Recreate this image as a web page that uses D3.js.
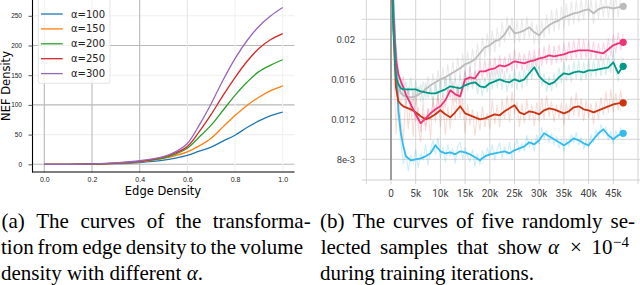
<!DOCTYPE html>
<html>
<head>
<meta charset="utf-8">
<script src="https://d3js.org/d3.v7.min.js"></script>
<style>
  body { margin: 0; background: #fff; }
  svg { display: block; }
  .cap { font-family: "Liberation Serif", "Times New Roman", serif; font-size: 21px; fill: #000; }
</style>
</head>
<body>
<svg id="fig" width="640" height="285"></svg>
<script>
// ---- (a) transformation curves ----
var edgeX = [0, 0.1, 0.2, 0.3, 0.4, 0.5, 0.55, 0.6, 0.65, 0.7, 0.75, 0.8, 0.85, 0.9, 0.95, 1.0];
var alphaLabels = ["α=100", "α=150", "α=200", "α=250", "α=300"];
var nef100 = [0, 0, 0.3, 1, 3, 7, 10.5, 15, 22, 29, 39, 49, 62, 73, 82, 88];
var nef150 = [0, 0, 0.4, 1.5, 4, 10, 14.5, 21, 31, 44, 63, 82, 99, 113, 124, 132];
var nef200 = [0, 0, 0.5, 2, 5, 10.5, 17, 27, 46, 66, 91, 116, 138, 156, 167, 176];
var nef250 = [0, 0, 0.6, 2, 5, 12, 19, 30, 55, 84, 116, 146, 173, 195, 210, 220];
var nef300 = [0, 0, 0.7, 2.5, 6, 13, 21, 35, 66, 102, 142, 178, 208, 232, 250, 264];
var xTicksA = [0, 0.2, 0.4, 0.6, 0.8, 1.0];
var yTicksA = [0, 50, 100, 150, 200, 250];

// ---- (b) training curves (alpha x 1e-4 vs iteration) ----
var smoothSteps = [0, 500, 1000, 1500, 2000, 2500, 3000,
  4000, 5000, 6000, 7000, 8000, 9000, 10000,
  11000, 12000, 13000, 14000, 15000, 16000, 17000, 18000, 19000, 20000,
  21000, 22000, 23000, 24000, 25000, 26000, 27000, 28000, 29000, 30000,
  31000, 32000, 33000, 34000, 35000, 36000, 37000, 38000, 39000, 40000,
  41000, 42000, 43000, 44000, 45000, 46000, 47000];
var cyanSmooth = [0.030, 0.023, 0.018, 0.0129, 0.0106, 0.0093, 0.0083,
  0.0079, 0.0080, 0.0081, 0.0083, 0.0086, 0.0094, 0.0088,
  0.0086, 0.0087, 0.0085, 0.0088, 0.0087, 0.0085, 0.0082, 0.0079, 0.0083, 0.0085,
  0.0086, 0.0087, 0.0088, 0.0086, 0.0089, 0.0091, 0.0093, 0.0097, 0.0095, 0.0099,
  0.0106, 0.0103, 0.0100, 0.0097, 0.0094, 0.0097, 0.0101, 0.0099, 0.0096, 0.0094,
  0.0100, 0.0106, 0.0110, 0.0104, 0.0100, 0.0104, 0.0106];
var redSmooth = [0.030, 0.021, 0.0152, 0.0138, 0.0135, 0.0133, 0.0132,
  0.0130, 0.0127, 0.0123, 0.0120, 0.0122, 0.0125, 0.0129,
  0.0125, 0.0122, 0.0127, 0.0133, 0.0126, 0.0124, 0.0122, 0.0120, 0.0121, 0.0123,
  0.0125, 0.0124, 0.0128, 0.0131, 0.0134, 0.0127, 0.0125, 0.0128, 0.0127, 0.0125,
  0.0129, 0.0131, 0.0130, 0.0128, 0.0126, 0.0128, 0.0132, 0.0133, 0.0130, 0.0129,
  0.0127, 0.0129, 0.0131, 0.0133, 0.0135, 0.0136, 0.01365];
var tealSmooth = [0.030, 0.021, 0.0162, 0.0155, 0.0151, 0.0150, 0.0150,
  0.0150, 0.0150, 0.0148, 0.0147, 0.0146, 0.0146, 0.0148,
  0.0150, 0.0153, 0.0152, 0.0151, 0.0154, 0.0156, 0.0157, 0.0153, 0.0152, 0.0156,
  0.0158, 0.0160, 0.0158, 0.0157, 0.0160, 0.0158, 0.0160, 0.0166, 0.0172, 0.0163,
  0.0158, 0.0155, 0.0157, 0.0162, 0.0166, 0.0165, 0.0167, 0.0168, 0.0167, 0.0169,
  0.0169, 0.0170, 0.0171, 0.0172, 0.0177, 0.0166, 0.0173];
var pinkSmooth = [0.030, 0.022, 0.0180, 0.0165, 0.0158, 0.0152, 0.0145,
  0.0135, 0.0125, 0.0116, 0.0121, 0.0126, 0.0130, 0.0133,
  0.0139, 0.0149, 0.0145, 0.0143, 0.0160, 0.0162, 0.0161, 0.0168, 0.0168, 0.0170,
  0.0171, 0.0174, 0.0173, 0.0175, 0.0178, 0.0177, 0.0176, 0.0178, 0.0179, 0.0181,
  0.0182, 0.0184, 0.0183, 0.0184, 0.0185, 0.0187, 0.0188, 0.0189, 0.0189, 0.0189,
  0.0188, 0.0187, 0.0186, 0.0190, 0.0194, 0.0196, 0.0197];
var graySmooth = [0.030, 0.024, 0.0180, 0.0155, 0.0146, 0.0144, 0.0143,
  0.0142, 0.0143, 0.0146, 0.0150, 0.0154, 0.0157, 0.0160,
  0.0162, 0.0165, 0.0168, 0.0171, 0.0175, 0.0177, 0.0180, 0.0186, 0.0192, 0.0194,
  0.0198, 0.0200, 0.0205, 0.0213, 0.0206, 0.0207, 0.0209, 0.0212, 0.0207, 0.0204,
  0.0210, 0.0214, 0.0217, 0.0219, 0.0222, 0.0224, 0.0226, 0.0227, 0.0229, 0.0230,
  0.0226, 0.0230, 0.0232, 0.0232, 0.0231, 0.0232, 0.0233];

// raw (unsmoothed) traces, one value every 500 iterations
var rawSteps = d3.range(0, 47001, 500);
var cyanRaw = [0.030, 0.022, 0.016, 0.0120, 0.0098, 0.0075, 0.0088, 0.0068, 0.0084, 0.0077,
  0.0090, 0.0071, 0.0086, 0.0079, 0.0095, 0.0074, 0.0089, 0.0099, 0.0085, 0.0102,
  0.0081, 0.0092, 0.0077, 0.0095, 0.0084, 0.0091, 0.0076, 0.0093, 0.0097, 0.0080,
  0.0092, 0.0083, 0.0078, 0.0090, 0.0073, 0.0086, 0.0075, 0.0089, 0.0080, 0.0091,
  0.0083, 0.0095, 0.0079, 0.0090, 0.0096, 0.0081, 0.0093, 0.0084, 0.0097, 0.0080,
  0.0092, 0.0100, 0.0087, 0.0096, 0.0088, 0.0104, 0.0092, 0.0099, 0.0088, 0.0105,
  0.0095, 0.0112, 0.0101, 0.0109, 0.0097, 0.0106, 0.0095, 0.0103, 0.0091, 0.0100,
  0.0088, 0.0099, 0.0093, 0.0105, 0.0096, 0.0107, 0.0094, 0.0102, 0.0090, 0.0099,
  0.0092, 0.0104, 0.0097, 0.0109, 0.0102, 0.0115, 0.0105, 0.0112, 0.0099, 0.0108,
  0.0095, 0.0109, 0.0101, 0.0111, 0.0104];
var redRaw = [0.030, 0.019, 0.0105, 0.0150, 0.0118, 0.0098, 0.0146, 0.0110, 0.0139, 0.0102,
  0.0152, 0.0115, 0.0097, 0.0137, 0.0108, 0.0131, 0.0100, 0.0143, 0.0117, 0.0148,
  0.0112, 0.0138, 0.0104, 0.0133, 0.0110, 0.0145, 0.0119, 0.0154, 0.0121, 0.0141,
  0.0106, 0.0135, 0.0114, 0.0130, 0.0103, 0.0128, 0.0109, 0.0133, 0.0112, 0.0126,
  0.0110, 0.0139, 0.0115, 0.0134, 0.0112, 0.0140, 0.0120, 0.0144, 0.0117, 0.0148,
  0.0125, 0.0138, 0.0112, 0.0136, 0.0116, 0.0140, 0.0119, 0.0135, 0.0113, 0.0137,
  0.0118, 0.0141, 0.0120, 0.0144, 0.0122, 0.0138, 0.0117, 0.0135, 0.0121, 0.0137,
  0.0114, 0.0136, 0.0120, 0.0143, 0.0124, 0.0147, 0.0122, 0.0141, 0.0118, 0.0139,
  0.0121, 0.0136, 0.0115, 0.0138, 0.0119, 0.0142, 0.0124, 0.0148, 0.0126, 0.0150,
  0.0127, 0.0146, 0.0129, 0.0149, 0.0132];
var tealRaw = [0.030, 0.020, 0.0172, 0.0146, 0.0160, 0.0141, 0.0158, 0.0144, 0.0162, 0.0139,
  0.0159, 0.0143, 0.0155, 0.0137, 0.0157, 0.0141, 0.0152, 0.0136, 0.0156, 0.0140,
  0.0160, 0.0142, 0.0163, 0.0144, 0.0165, 0.0147, 0.0161, 0.0143, 0.0164, 0.0145,
  0.0167, 0.0148, 0.0166, 0.0150, 0.0169, 0.0145, 0.0160, 0.0143, 0.0162, 0.0147,
  0.0167, 0.0150, 0.0170, 0.0151, 0.0172, 0.0149, 0.0168, 0.0147, 0.0166, 0.0151,
  0.0171, 0.0149, 0.0168, 0.0150, 0.0171, 0.0154, 0.0177, 0.0160, 0.0184, 0.0166,
  0.0174, 0.0153, 0.0166, 0.0147, 0.0163, 0.0148, 0.0166, 0.0152, 0.0172, 0.0156,
  0.0178, 0.0158, 0.0175, 0.0157, 0.0178, 0.0160, 0.0179, 0.0158, 0.0177, 0.0160,
  0.0180, 0.0161, 0.0179, 0.0162, 0.0181, 0.0163, 0.0182, 0.0164, 0.0184, 0.0166,
  0.0189, 0.0168, 0.0158, 0.0176, 0.0181];
var pinkRaw = [0.030, 0.021, 0.0192, 0.0170, 0.0150, 0.0163, 0.0141, 0.0152, 0.0128, 0.0140,
  0.0118, 0.0132, 0.0107, 0.0126, 0.0114, 0.0131, 0.0119, 0.0137, 0.0124, 0.0141,
  0.0127, 0.0145, 0.0131, 0.0150, 0.0141, 0.0158, 0.0137, 0.0153, 0.0134, 0.0155,
  0.0169, 0.0152, 0.0173, 0.0154, 0.0170, 0.0153, 0.0178, 0.0160, 0.0179, 0.0161,
  0.0181, 0.0162, 0.0182, 0.0164, 0.0184, 0.0165, 0.0183, 0.0166, 0.0186, 0.0168,
  0.0190, 0.0170, 0.0187, 0.0168, 0.0186, 0.0169, 0.0189, 0.0171, 0.0190, 0.0172,
  0.0192, 0.0173, 0.0193, 0.0175, 0.0195, 0.0174, 0.0194, 0.0176, 0.0195, 0.0177,
  0.0196, 0.0178, 0.0198, 0.0179, 0.0199, 0.0181, 0.0201, 0.0180, 0.0200, 0.0181,
  0.0199, 0.0180, 0.0198, 0.0179, 0.0196, 0.0178, 0.0197, 0.0180, 0.0201, 0.0183,
  0.0205, 0.0186, 0.0207, 0.0189, 0.0205];
var grayRaw = [0.030, 0.023, 0.0195, 0.0160, 0.0135, 0.0152, 0.0133, 0.0150, 0.0131, 0.0149,
  0.0134, 0.0153, 0.0137, 0.0158, 0.0140, 0.0163, 0.0145, 0.0166, 0.0147, 0.0169,
  0.0149, 0.0172, 0.0151, 0.0175, 0.0155, 0.0178, 0.0158, 0.0182, 0.0160, 0.0186,
  0.0163, 0.0188, 0.0166, 0.0191, 0.0170, 0.0196, 0.0176, 0.0202, 0.0181, 0.0206,
  0.0183, 0.0209, 0.0187, 0.0212, 0.0192, 0.0217, 0.0197, 0.0223, 0.0202, 0.0222,
  0.0195, 0.0219, 0.0197, 0.0220, 0.0199, 0.0223, 0.0201, 0.0218, 0.0195, 0.0215,
  0.0193, 0.0219, 0.0201, 0.0225, 0.0205, 0.0229, 0.0207, 0.0231, 0.0209, 0.0233,
  0.0211, 0.0236, 0.0213, 0.0238, 0.0215, 0.0239, 0.0217, 0.0241, 0.0219, 0.0242,
  0.0220, 0.0240, 0.0215, 0.0239, 0.0220, 0.0243, 0.0222, 0.0244, 0.0221, 0.0242,
  0.0220, 0.0243, 0.0222, 0.0244, 0.0240];
var startSpike = [0.0059, 0.030];   // grey trace at step 0
var yTicksB = [0.008, 0.012, 0.016, 0.02];
var yTickLabelsB = ["8e-3", "0.012", "0.016", "0.02"];
var yGridB = [0.008, 0.010, 0.012, 0.014, 0.016, 0.018, 0.020, 0.022];
var xGridB = [-5000, 0, 5000, 10000, 15000, 20000, 25000, 30000, 35000, 40000, 45000, 50000];
var xTicksB = [0, 5000, 10000, 15000, 20000, 25000, 30000, 35000, 40000, 45000];
var xTickLabelsB = ["0", "5k", "10k", "15k", "20k", "25k", "30k", "35k", "40k", "45k"];

var svg = d3.select("#fig");

// ================= left chart =================
var xA = d3.scaleLinear().domain([0, 1]).range([44.3, 282.7]);
var yA = d3.scaleLinear().domain([0, 250]).range([164.3, 15.8]);
var left = svg.append("g").style("font-family", "'DejaVu Sans', sans-serif");

// grid (some lines show stronger than others in the source image)
var strongY = [0, 100, 200];
var strongX = [0, 0.2, 0.4];
left.selectAll(".hgrid").data(yTicksA).enter().append("line")
    .attr("x1", 32.5).attr("x2", 294.5)
    .attr("y1", function (d) { return yA(d); })
    .attr("y2", function (d) { return yA(d); })
    .attr("stroke", function (d) { return strongY.indexOf(d) >= 0 ? "#b9b9b9" : "#efefef"; })
    .attr("stroke-width", 1.1);
left.selectAll(".vgrid").data(xTicksA).enter().append("line")
    .attr("y1", 0).attr("y2", 172)
    .attr("x1", function (d) { return xA(d); })
    .attr("x2", function (d) { return xA(d); })
    .attr("stroke", function (d) { return strongX.indexOf(d) >= 0 ? "#b9b9b9" : (d === 0.6 ? "#e6e6e6" : "#f1f1f1"); })
    .attr("stroke-width", 1.1);

var nefSeries = [nef100, nef150, nef200, nef250, nef300];
var colorsA = ["#1f77b4", "#ff7f0e", "#2ca02c", "#d62728", "#9467bd"];
var lineA = d3.line()
    .x(function (d, i) { return xA(edgeX[i]); })
    .y(function (d) { return yA(d); })
    .curve(d3.curveCatmullRom.alpha(0.5));
left.selectAll(".curve").data(nefSeries).enter().append("path")
    .attr("d", lineA)
    .attr("fill", "none")
    .attr("stroke", function (d, i) { return colorsA[i]; })
    .attr("stroke-width", 1.3);

// spines
left.append("line").attr("x1", 32.5).attr("x2", 32.5).attr("y1", -1).attr("y2", 172.5)
    .attr("stroke", "#000").attr("stroke-width", 1.1);
left.append("line").attr("x1", 32).attr("x2", 294.5).attr("y1", 172).attr("y2", 172)
    .attr("stroke", "#000").attr("stroke-width", 1.1);

var axA = left.append("g").attr("transform", "translate(32.5,0)")
    .call(d3.axisLeft(yA).tickValues(yTicksA).tickSize(4).tickPadding(6.5));
axA.select(".domain").remove();
axA.selectAll("text").style("font-size", "6.5px").attr("fill", "#222");
axA.selectAll("line").attr("stroke", "#555");

var axAx = left.append("g").attr("transform", "translate(0,172)")
    .call(d3.axisBottom(xA).tickValues(xTicksA).tickSize(0).tickPadding(5.5).tickFormat(d3.format(".1f")));
axAx.select(".domain").remove();
axAx.selectAll("text").style("font-size", "7px").attr("fill", "#222");

left.append("text").attr("x", 163).attr("y", 194.5)
    .attr("text-anchor", "middle").style("font-size", "11.5px").text("Edge Density");
left.append("text").attr("transform", "translate(10,86) rotate(-90)")
    .attr("text-anchor", "middle").style("font-size", "11.5px").text("NEF Density");

// legend
var legend = left.append("g");
legend.append("rect").attr("x", 38.3).attr("y", -4).attr("width", 71.7).attr("height", 87.3)
    .attr("rx", 2).attr("fill", "#fff").attr("fill-opacity", 0.8)
    .attr("stroke", "#dcdcdc").attr("stroke-width", 0.8);
var items = legend.selectAll(".item").data(alphaLabels).enter().append("g")
    .attr("transform", function (d, i) { return "translate(0," + (14 + i * 14.9) + ")"; });
items.append("line").attr("x1", 41).attr("x2", 62.7)
    .attr("stroke", function (d, i) { return colorsA[i]; }).attr("stroke-width", 1.3);
items.append("text").attr("x", 71).attr("dy", "0.35em")
    .style("font-size", "10px").attr("fill", "#222").text(function (d) { return d; });

// ================= right chart =================
var xB = d3.scaleLinear().domain([0, 45000]).range([391, 613.3]);
var yB = d3.scaleLinear().domain([0.008, 0.02]).range([159.3, 39.3]);
var right = svg.append("g").style("font-family", "Roboto, 'Noto Sans', sans-serif");

right.append("clipPath").attr("id", "clipB").append("rect")
    .attr("x", 361.7).attr("y", 0).attr("width", 278.3).attr("height", 180);

right.selectAll(".hg").data(yGridB).enter().append("line")
    .attr("x1", 361.7).attr("x2", 640)
    .attr("y1", function (d) { return yB(d); }).attr("y2", function (d) { return yB(d); })
    .attr("stroke", "#d4d4d4").attr("stroke-width", 1);
right.selectAll(".vg").data(xGridB).enter().append("line")
    .attr("y1", 0).attr("y2", 184)
    .attr("x1", function (d) { return xB(d); }).attr("x2", function (d) { return xB(d); })
    .attr("stroke", "#d4d4d4").attr("stroke-width", 1);
right.append("line").attr("x1", 361.7).attr("x2", 640).attr("y1", 180).attr("y2", 180)
    .attr("stroke", "#cfcfcf").attr("stroke-width", 1);

right.selectAll(".yl").data(yTicksB).enter().append("text")
    .attr("x", 355).attr("y", function (d) { return yB(d); }).attr("dy", "0.35em")
    .attr("text-anchor", "end").style("font-size", "9.5px").attr("fill", "#444")
    .text(function (d, i) { return yTickLabelsB[i]; });
right.selectAll(".xl").data(xTicksB).enter().append("text")
    .attr("x", function (d) { return xB(d); }).attr("y", 193.5).attr("dy", "0.35em")
    .attr("text-anchor", "middle").style("font-size", "10px").attr("fill", "#444")
    .text(function (d, i) { return xTickLabelsB[i]; });

var plotB = right.append("g").attr("clip-path", "url(#clipB)");
var runs = [
  { smooth: graySmooth, raw: grayRaw, color: "#bbbbbb", rawOp: 0.3 },
  { smooth: cyanSmooth, raw: cyanRaw, color: "#33bbee", rawOp: 0.25 },
  { smooth: redSmooth, raw: redRaw, color: "#cc3311", rawOp: 0.17 },
  { smooth: pinkSmooth, raw: pinkRaw, color: "#ee3377", rawOp: 0.2 },
  { smooth: tealSmooth, raw: tealRaw, color: "#009988", rawOp: 0.17 }
];
var rawLine = d3.line()
    .x(function (d, i) { return xB(rawSteps[i]); })
    .y(function (d) { return yB(d); });
var smoothLine = d3.line()
    .x(function (d, i) { return xB(smoothSteps[i]); })
    .y(function (d) { return yB(d); });

plotB.selectAll(".raw").data(runs).enter().append("path")
    .attr("d", function (r) { return rawLine(r.raw); })
    .attr("fill", "none").attr("stroke", function (r) { return r.color; })
    .attr("stroke-opacity", function (r) { return r.rawOp; }).attr("stroke-width", 1.1);

plotB.append("line")
    .attr("x1", xB(0)).attr("x2", xB(0))
    .attr("y1", yB(startSpike[0])).attr("y2", yB(startSpike[1]))
    .attr("stroke", "#7d7d7d").attr("stroke-width", 1.4);

plotB.selectAll(".sm").data(runs).enter().append("path")
    .attr("d", function (r) { return smoothLine(r.smooth); })
    .attr("fill", "none").attr("stroke", function (r) { return r.color; })
    .attr("stroke-width", 1.8).attr("stroke-linejoin", "round");

plotB.selectAll(".dot").data(runs).enter().append("circle")
    .attr("cx", xB(smoothSteps[smoothSteps.length - 1]))
    .attr("cy", function (r) { return yB(r.smooth[r.smooth.length - 1]); })
    .attr("r", 3.6).attr("fill", function (r) { return r.color; });

// ================= captions =================
var cap = svg.append("g");

function justify(words, x0, x1, y) {
  var els = words.map(function (w) {
    return cap.append("text").attr("class", "cap").attr("y", y).text(w);
  });
  var widths = els.map(function (e) { return e.node().getComputedTextLength(); });
  var gap = (x1 - x0 - d3.sum(widths)) / (words.length - 1);
  var x = x0;
  els.forEach(function (e, i) { e.attr("x", x); x += widths[i] + gap; });
}

justify(["(a)", "The", "curves", "of", "the", "transforma-"], 1.5, 310.7, 227.5);
justify(["tion", "from", "edge", "density", "to", "the", "volume"], 1, 303, 254);
var l3 = cap.append("text").attr("class", "cap").attr("x", 1).attr("y", 280);
l3.append("tspan").text("density with different ");
l3.append("tspan").style("font-style", "italic").text("α");
l3.append("tspan").text(".");

justify(["(b)", "The", "curves", "of", "five", "randomly", "se-"], 320, 635, 227.5);
justify(["lected", "samples", "that", "show"], 320.7, 542, 254);
cap.append("text").attr("class", "cap").attr("x", 548).attr("y", 254)
    .style("font-style", "italic").text("α");
cap.append("text").attr("class", "cap").attr("x", 570).attr("y", 254).text("×");
cap.append("text").attr("class", "cap").attr("x", 591.5).attr("y", 254).text("10");
cap.append("text").attr("class", "cap").attr("x", 613).attr("y", 246.5)
    .style("font-size", "15px").text("−4");
cap.append("text").attr("class", "cap").attr("x", 320).attr("y", 280).text("during training iterations.");
</script>
</body>
</html>
